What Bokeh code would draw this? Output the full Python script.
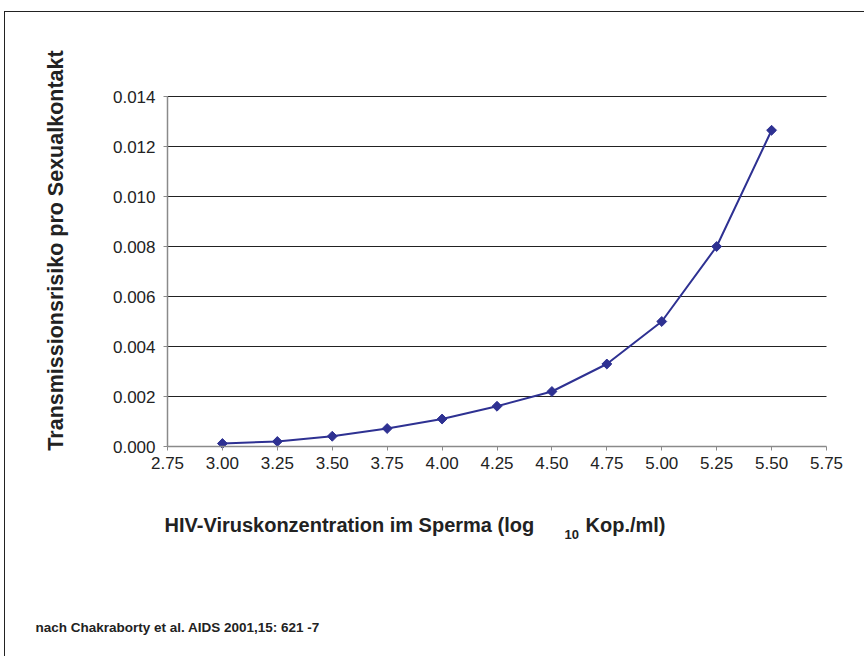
import math
from bokeh.plotting import figure
from bokeh.models import Range1d, FixedTicker, NumeralTickFormatter, Label, LinearAxis
from bokeh.embed import file_html
from bokeh.resources import INLINE

# ---- data ----
log_conc = [3.00, 3.25, 3.50, 3.75, 4.00, 4.25, 4.50, 4.75, 5.00, 5.25, 5.50]
risk = [0.00012, 0.00020, 0.00041, 0.00072, 0.00110, 0.00161, 0.00220, 0.00330, 0.00500, 0.00800, 0.01265]
x_ticks = [2.75, 3.00, 3.25, 3.50, 3.75, 4.00, 4.25, 4.50, 4.75, 5.00, 5.25, 5.50, 5.75]
y_ticks = [0.000, 0.002, 0.004, 0.006, 0.008, 0.010, 0.012, 0.014]

y_title = "Transmissionsrisiko pro Sexualkontakt"
x_title_main = "HIV-Viruskonzentration im Sperma (log"
x_title_sub = "10"
x_title_end = "Kop./ml)"
source_note = "nach Chakraborty et al. AIDS 2001,15: 621  -7"

NAVY = "#2E3192"
FONT = "'Liberation Sans', Arial, sans-serif"

# ---- layout (page pixels) ----
W, H = 860, 645            # canvas size
OX, OY = 5, 12             # canvas origin on the page
PL, PR, PT, PB = 167, 826, 96, 446   # plot area on the page

xs = (x_ticks[-1] - x_ticks[0]) / (PR - PL)   # data per pixel
ys = (y_ticks[-1] - y_ticks[0]) / (PB - PT)

def X(px):
    return x_ticks[0] + (px - PL) * xs

def Y(py):
    return y_ticks[0] + (PB - py) * ys

p = figure(width=W, height=H, output_backend="svg", toolbar_location=None,
           x_range=Range1d(X(OX), X(OX + W)), y_range=Range1d(Y(OY + H), Y(OY)),
           x_axis_location=None, y_axis_location=None,
           min_border=0, min_border_left=0, min_border_right=0,
           min_border_top=0, min_border_bottom=0)
p.styles = {"border-top": "1px solid #222", "border-left": "1px solid #222",
            "margin-top": "11px", "margin-left": "4px"}
p.outline_line_color = None
p.background_fill_color = "white"
p.border_fill_color = "white"
for g in list(p.xgrid) + list(p.ygrid):
    g.visible = False

# horizontal grid lines at the y ticks (above zero)
gy = y_ticks[1:]
p.segment(x0=[x_ticks[0]] * len(gy), x1=[x_ticks[-1]] * len(gy), y0=gy, y1=gy,
          line_color="#222222", line_width=1)

xaxis = LinearAxis(fixed_location=y_ticks[0], bounds=(x_ticks[0], x_ticks[-1]))
yaxis = LinearAxis(fixed_location=x_ticks[0], bounds=(y_ticks[0], y_ticks[-1]))
for ax, fmt, ticks in ((xaxis, "0.00", x_ticks), (yaxis, "0.000", y_ticks)):
    ax.ticker = FixedTicker(ticks=ticks)
    ax.formatter = NumeralTickFormatter(format=fmt)
    ax.axis_line_color = "#8a8a8a"
    ax.axis_line_width = 1.5
    ax.major_tick_line_color = "#8a8a8a"
    ax.major_tick_out = 4
    ax.major_tick_in = 0
    ax.minor_tick_line_color = None
    ax.major_label_text_font = FONT
    ax.major_label_text_font_size = "17px"
    ax.major_label_text_color = "#222222"
yaxis.major_label_standoff = 8
xaxis.major_label_standoff = 6
p.add_layout(xaxis, "below")
p.add_layout(yaxis, "left")

p.line(log_conc, risk, line_color=NAVY, line_width=2)
p.scatter(log_conc, risk, marker="square", angle=math.pi / 4, size=7,
          fill_color=NAVY, line_color=NAVY)

def lab(px, py, text, size, angle=0.0, align="left"):
    p.add_layout(Label(x=X(px), y=Y(py), text=text, angle=angle,
                       text_font=FONT, text_font_style="bold",
                       text_font_size=size, text_color="#222222",
                       text_align=align, text_baseline="middle"))

lab(55, 250, y_title, "21.5px", angle=math.pi / 2, align="center")
lab(164, 524, x_title_main, "20px")
lab(564, 534, x_title_sub, "13px")
lab(585, 524, x_title_end, "20px")
lab(35, 627, source_note, "13.5px")

open("out.html", "w").write(file_html(p, INLINE))
